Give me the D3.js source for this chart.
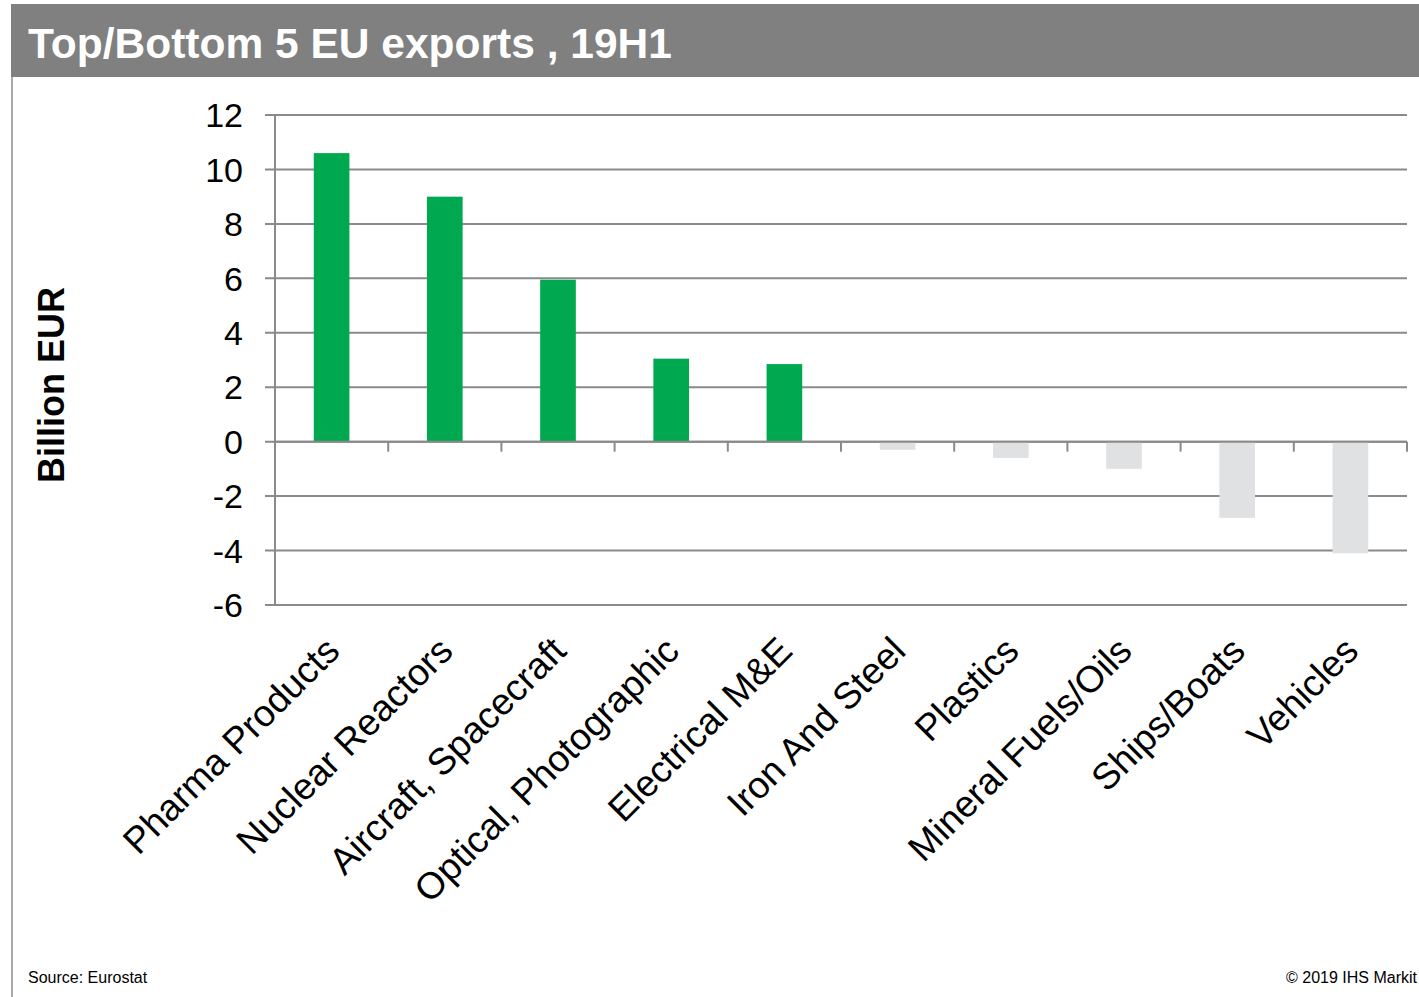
<!DOCTYPE html>
<html>
<head>
<meta charset="utf-8">
<script src="https://cdn.jsdelivr.net/npm/d3@7"></script>
<style>
  html, body { margin: 0; padding: 0; background: #fff; }
  svg { display: block; font-family: "Liberation Sans", Arial, sans-serif; }
</style>
</head>
<body>
<svg id="chart" width="1419" height="997"></svg>
<script>
// Net export change by product group, first half of 2019 (billion EUR)
const categories = [
  "Pharma Products", "Nuclear Reactors", "Aircraft, Spacecraft",
  "Optical, Photographic", "Electrical M&E", "Iron And Steel",
  "Plastics", "Mineral Fuels/Oils", "Ships/Boats", "Vehicles"
];
const values = [10.6, 9.0, 5.95, 3.05, 2.85, -0.3, -0.6, -1.0, -2.8, -4.1];
const yTicks = [12, 10, 8, 6, 4, 2, 0, -2, -4, -6];

const titleText = "Top/Bottom 5 EU exports , 19H1";
const yLabel = "Billion EUR";
const sourceText = "Source: Eurostat";
const copyrightText = "\u00A9 2019 IHS Markit";

const svg = d3.select("#chart");
const W = 1419, H = 997;

// Frame: title band and left rule
svg.append("rect").attr("x", 11).attr("y", 4).attr("width", W - 11).attr("height", 73)
  .attr("fill", "#808080");
svg.append("line").attr("x1", 12).attr("x2", 12).attr("y1", 77).attr("y2", H)
  .attr("stroke", "#8c8c8c").attr("stroke-width", 1.5);
svg.append("text").attr("x", 28).attr("y", 58)
  .attr("fill", "#fff").attr("font-weight", "bold").attr("font-size", 42.5)
  .text(titleText);

// Plot area
const plot = { left: 275, right: 1407, top: 115, bottom: 605 };

const x = d3.scaleBand().domain(categories)
  .range([plot.left, plot.right]).paddingInner(0.685).paddingOuter(0.3425);
const y = d3.scaleLinear().domain([-6, 12]).range([plot.bottom, plot.top]);

const gridColor = "#8a8a8a";
const step = x.step();

// Horizontal gridlines with short ticks left of the axis
svg.append("g").selectAll("line").data(yTicks).join("line")
  .attr("x1", plot.left - 10).attr("x2", plot.right)
  .attr("y1", d => y(d)).attr("y2", d => y(d))
  .attr("stroke", gridColor).attr("stroke-width", 2);

// Bars
svg.append("g").selectAll("rect").data(values).join("rect")
  .attr("x", (d, i) => x(categories[i]))
  .attr("width", x.bandwidth())
  .attr("y", d => Math.min(y(d), y(0)))
  .attr("height", d => Math.abs(y(d) - y(0)))
  .attr("fill", d => d >= 0 ? "#00a94f" : "#e0e1e2");

// Vertical axis line
svg.append("line").attr("x1", plot.left).attr("x2", plot.left)
  .attr("y1", plot.top).attr("y2", plot.bottom)
  .attr("stroke", gridColor).attr("stroke-width", 2);

// Category axis along zero with separators between categories
const zeroAxis = svg.append("g");
zeroAxis.append("line").attr("x1", plot.left).attr("x2", plot.right)
  .attr("y1", y(0)).attr("y2", y(0))
  .attr("stroke", gridColor).attr("stroke-width", 2);
zeroAxis.selectAll("line.sep").data(categories).join("line").attr("class", "sep")
  .attr("x1", c => x(c) + x.bandwidth() / 2 + step / 2)
  .attr("x2", c => x(c) + x.bandwidth() / 2 + step / 2)
  .attr("y1", y(0)).attr("y2", y(0) + 10)
  .attr("stroke", gridColor).attr("stroke-width", 2);

// Y tick labels
svg.append("g").selectAll("text").data(yTicks).join("text")
  .attr("x", 243).attr("y", d => y(d))
  .attr("dy", "0.36em")
  .attr("text-anchor", "end")
  .attr("font-size", 34).attr("fill", "#000")
  .text(d => d);

// Category labels, rotated
svg.append("g").selectAll("text").data(categories).join("text")
  .attr("transform", c => `translate(${x(c) + x.bandwidth() / 2 + 10},${y(-6) + 48}) rotate(-45)`)
  .attr("text-anchor", "end")
  .attr("font-size", 37.2).attr("fill", "#000")
  .text(c => c);

// Y axis title
svg.append("text")
  .attr("transform", `translate(64,385) rotate(-90)`)
  .attr("text-anchor", "middle")
  .attr("font-weight", "bold").attr("font-size", 36)
  .text(yLabel);

// Footer
svg.append("text").attr("x", 28).attr("y", 983).attr("font-size", 16).text(sourceText);
svg.append("text").attr("x", 1417).attr("y", 983).attr("text-anchor", "end")
  .attr("font-size", 16).text(copyrightText);
</script>
</body>
</html>
